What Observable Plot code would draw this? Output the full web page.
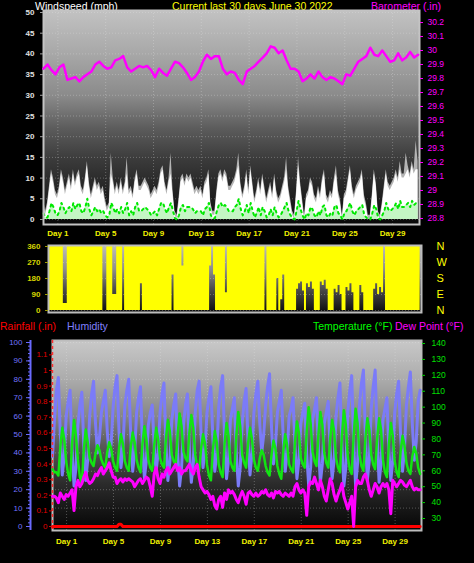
<!DOCTYPE html>
<html><head><meta charset="utf-8">
<script src="https://cdn.jsdelivr.net/npm/d3@7"></script>
<script src="https://cdn.jsdelivr.net/npm/@observablehq/plot@0.6"></script>
<style>
html,body{margin:0;padding:0;background:#000;}
#page{position:relative;width:474px;height:563px;overflow:hidden;background:#000;font-family:"Liberation Sans",Arial,Helvetica,sans-serif;}
.lbl{position:absolute;font-size:10.5px;line-height:12px;white-space:nowrap;}
</style></head>
<body><div id="page">
<div class="lbl" style="left:35px;top:0px;color:#ffffff">Windspeed (mph)</div>
<div class="lbl" style="left:172px;top:0px;color:#ffff00">Current last 30 days June 30 2022</div>
<div class="lbl" style="left:371px;top:0px;color:#ff00ff">Barometer (.in)</div>
<div class="lbl" style="left:0px;top:320px;color:#ff0000">Rainfall (.in)</div>
<div class="lbl" style="left:67px;top:320px;color:#8080ff">Humidity</div>
<div class="lbl" style="left:313px;top:320px;color:#00ff00">Temperature (°F)</div>
<div class="lbl" style="left:395px;top:320px;color:#ff00ff">Dew Point (°F)</div>
</div>
<script>
// ---------- tick labels ----------
const dayTicks = [1, 5, 9, 13, 17, 21, 25, 29];
const windTicks = [0, 5, 10, 15, 20, 25, 30, 35, 40, 45, 50];
const baroTicks = [28.8, 28.9, 29, 29.1, 29.2, 29.3, 29.4, 29.5, 29.6, 29.7, 29.8, 29.9, 30, 30.1, 30.2];
const dirTicks = [0, 90, 180, 270, 360];
const dirNames = ["N", "E", "S", "W", "N"];
const humTicks = [0, 10, 20, 30, 40, 50, 60, 70, 80, 90, 100];
const rainTicks = [0, 0.1, 0.2, 0.3, 0.4, 0.5, 0.6, 0.7, 0.8, 0.9, 1, 1.1];
const tempTicks = [30, 40, 50, 60, 70, 80, 90, 100, 110, 120, 130, 140];

// ---------- series: one value every 4 hours (2 evening samples, then days 0..30 x6, then 1) ----------
const temperature = [
 61, 59,
 59, 57, 75, 87, 80, 66,
 58, 54, 77, 92, 82, 67,
 56, 52, 73, 86, 78, 68,
 65, 63, 71, 76, 73, 67,
 64, 62, 72, 78, 74, 66,
 62, 60, 74, 83, 77, 66,
 62, 60, 75, 84, 78, 67,
 62, 59, 77, 88, 80, 67,
 62, 60, 76, 87, 80, 68,
 64, 62, 80, 92, 85, 70,
 66, 64, 83, 96, 88, 72,
 68, 66, 84, 95, 87, 70,
 63, 60, 74, 83, 77, 64,
 57, 54, 73, 85, 78, 64,
 59, 56, 77, 90, 82, 66,
 62, 60, 82, 97, 88, 70,
 65, 62, 77, 87, 80, 67,
 62, 60, 68, 73, 70, 63,
 59, 57, 70, 79, 74, 63,
 58, 55, 72, 83, 76, 64,
 61, 59, 78, 91, 84, 68,
 64, 62, 85, 100, 90, 72,
 66, 63, 83, 97, 89, 71,
 65, 62, 80, 92, 85, 68,
 62, 59, 82, 98, 89, 69,
 61, 58, 82, 99, 90, 70,
 63, 60, 80, 93, 86, 70,
 64, 61, 80, 93, 86, 67,
 59, 56, 76, 90, 82, 66,
 59, 56, 72, 82, 76, 65,
 60, 58, 69, 75, 71, 62,
 58
];
const humidity = [
 38, 58,
 74, 81, 50, 28, 38, 60,
 68, 74, 42, 22, 32, 55,
 66, 73, 44, 25, 36, 60,
 72, 79, 56, 40, 48, 62,
 68, 74, 52, 38, 45, 65,
 76, 82, 52, 32, 42, 66,
 74, 80, 50, 30, 40, 62,
 70, 76, 45, 26, 36, 55,
 62, 66, 44, 30, 40, 62,
 72, 78, 45, 25, 35, 58,
 66, 72, 40, 22, 32, 56,
 66, 72, 42, 24, 34, 62,
 74, 79, 50, 32, 42, 62,
 70, 76, 48, 30, 40, 65,
 76, 82, 48, 26, 36, 58,
 64, 70, 40, 22, 32, 56,
 68, 75, 46, 28, 40, 62,
 72, 79, 56, 40, 50, 66,
 76, 83, 54, 34, 44, 62,
 68, 74, 48, 30, 40, 60,
 64, 70, 44, 26, 36, 56,
 62, 67, 40, 22, 32, 58,
 64, 70, 42, 24, 34, 56,
 62, 68, 42, 26, 36, 60,
 70, 78, 44, 22, 32, 62,
 74, 82, 46, 22, 34, 66,
 78, 85, 50, 25, 36, 64,
 76, 85, 50, 24, 34, 58,
 64, 70, 42, 25, 36, 62,
 72, 79, 50, 30, 42, 66,
 76, 84, 56, 36, 46, 68,
 74
];
const dewPoint = [
 44, 44,
 43, 40, 46, 44, 42, 45,
 44, 46, 48, 35, 50, 54,
 50, 52, 56, 59, 54, 52,
 53, 55, 58, 57, 60, 62,
 58, 60, 62, 65, 60, 56,
 56, 52, 54, 55, 53, 55,
 54, 55, 54, 53, 50, 52,
 54, 55, 52, 54, 56, 55,
 50, 44, 58, 62, 55, 52,
 58, 56, 60, 62, 58, 60,
 62, 64, 60, 62, 58, 60,
 60, 62, 64, 60, 58, 62,
 64, 56, 50, 48, 46, 47,
 45, 42, 44, 38, 36, 42,
 44, 37, 46, 42, 48, 46,
 47, 45, 42, 40, 44, 47,
 44, 39, 46, 47, 45, 44,
 46, 44, 45, 47, 46, 48,
 45, 44, 46, 43, 47, 46,
 47, 45, 44, 46, 45, 44,
 46, 44, 50, 52, 48, 46,
 48, 46, 32, 50, 53, 52,
 56, 52, 48, 54, 50, 44,
 41, 48, 55, 52, 45, 41,
 45, 48, 52, 44, 40, 36,
 40, 44, 25, 50, 54, 52,
 52, 56, 58, 54, 48, 44,
 48, 52, 50, 46, 50, 52,
 50, 52, 48, 33, 54, 52,
 50, 52, 54, 53, 51, 50,
 52, 54, 50, 48, 49, 48,
 48
];
const rainfall = [
 0, 0,
 0, 0, 0, 0, 0, 0,
 0, 0, 0, 0, 0, 0,
 0, 0, 0, 0, 0, 0,
 0, 0, 0, 0, 0, 0,
 0, 0, 0, 0, 0, 0,
 0, 0, 0.015, 0.015, 0, 0,
 0, 0, 0, 0, 0, 0,
 0, 0, 0, 0, 0, 0,
 0, 0, 0, 0, 0, 0,
 0, 0, 0, 0, 0, 0,
 0, 0, 0, 0, 0, 0,
 0, 0, 0, 0, 0, 0,
 0, 0, 0, 0, 0, 0,
 0, 0, 0, 0, 0, 0,
 0, 0, 0, 0, 0, 0,
 0, 0, 0, 0, 0, 0,
 0, 0, 0, 0, 0, 0,
 0, 0, 0, 0, 0, 0,
 0, 0, 0, 0, 0, 0,
 0, 0, 0, 0, 0, 0,
 0, 0, 0, 0, 0, 0,
 0, 0, 0, 0, 0, 0,
 0, 0, 0, 0, 0, 0,
 0, 0, 0, 0, 0, 0,
 0, 0, 0, 0, 0, 0,
 0, 0, 0, 0, 0, 0,
 0, 0, 0, 0, 0, 0,
 0, 0, 0, 0, 0, 0,
 0, 0, 0, 0, 0, 0,
 0, 0, 0, 0, 0, 0,
 0, 0, 0, 0, 0, 0,
 0
];
const windSpeed = [
 4, 1,
 3, 7, 11, 9, 6, 5,
 7, 11, 9, 6, 8, 10,
 7, 11, 8, 10, 11, 7,
 6, 9, 13, 8, 5, 7,
 9, 7, 8, 6, 7, 4,
 2, 3, 11, 9, 6, 8,
 6, 9, 6, 8, 11, 6,
 7, 5, 9, 11, 7, 7,
 8, 9, 8, 7, 5, 6,
 7, 6, 8, 11, 12, 8,
 6, 9, 11, 6, 1, 0,
 4, 9, 10, 8, 10, 9,
 10, 8, 6, 7, 6, 7,
 5, 8, 9, 11, 3, 1,
 1, 6, 10, 11, 9, 11,
 10, 7, 7, 8, 9, 11,
 13, 8, 5, 7, 11, 6,
 12, 8, 4, 6, 9, 6,
 10, 7, 4, 6, 8, 5,
 10, 6, 4, 5, 7, 9,
 12, 7, 4, 1, 0, 6,
 13, 8, 4, 0, 5, 6,
 9, 8, 5, 4, 7, 5,
 9, 11, 5, 4, 6, 5,
 9, 11, 6, 4, 0, 5,
 6, 9, 12, 7, 5, 7,
 8, 9, 11, 5, 3, 0,
 0, 5, 11, 8, 1, 0,
 3, 7, 11, 8, 7, 8,
 9, 11, 9, 12, 10, 10,
 11, 12, 10, 13, 11, 12,
 12
];
const windGust = [
 5, 2,
 4, 8, 12, 10, 7, 6,
 8, 12, 10, 7, 9, 11,
 8, 12, 9, 11, 12, 8,
 7, 10, 14, 9, 6, 8,
 10, 8, 9, 7, 8, 5,
 3, 4, 16, 10, 7, 9,
 7, 10, 7, 9, 15, 7,
 8, 6, 10, 12, 8, 8,
 9, 10, 9, 8, 6, 7,
 8, 7, 9, 12, 13, 9,
 7, 10, 16, 7, 2, 1,
 5, 10, 11, 9, 11, 10,
 11, 9, 7, 8, 7, 8,
 6, 9, 10, 12, 4, 2,
 2, 7, 11, 12, 10, 12,
 11, 8, 8, 9, 10, 12,
 16, 9, 6, 8, 12, 7,
 13, 9, 5, 7, 10, 7,
 11, 8, 5, 7, 9, 6,
 11, 7, 5, 6, 8, 10,
 15, 8, 5, 2, 1, 7,
 15, 9, 5, 1, 6, 7,
 10, 9, 6, 5, 8, 6,
 10, 12, 6, 5, 7, 6,
 10, 13, 7, 5, 1, 6,
 7, 10, 13, 8, 6, 8,
 9, 10, 12, 6, 4, 1,
 1, 6, 12, 9, 2, 1,
 4, 8, 12, 9, 8, 9,
 10, 12, 10, 14, 11, 11,
 16, 13, 11, 14, 12, 19,
 14
];
const windAvg = [
 1.5, 0.5,
 0.5, 2, 4, 3, 1.5, 1,
 2, 4, 3, 1.5, 2.5, 3,
 2, 4, 2.5, 3.5, 4, 2,
 1.5, 3, 5, 2.5, 1, 2,
 3, 2, 2.5, 1.5, 2, 1,
 0.5, 1, 4, 3, 1.5, 2.5,
 1.5, 3, 1.5, 2.5, 4, 1,
 2, 1, 3, 4, 2, 2,
 2.5, 3, 2.5, 2, 1, 1.5,
 2, 1, 2.5, 4, 4, 2.5,
 1.5, 3, 4, 2, 0.3, 0,
 1, 3, 3.5, 2, 3, 3,
 3, 2.5, 1.5, 2, 2, 2,
 1, 2.5, 3, 4, 1, 0.3,
 0.3, 2, 3.5, 4, 3, 3.5,
 3, 2, 2, 2, 3, 3.5,
 5, 2.5, 1, 2, 3.5, 1.5,
 4, 2, 0.5, 1.5, 3, 1,
 3, 2, 0.5, 1, 2.5, 1,
 3, 1.5, 0.5, 1, 2, 3,
 4, 2, 1, 0.3, 0, 2,
 4.5, 2.5, 1, 0, 1.5, 1,
 3, 2.5, 1, 0.5, 2, 1,
 3, 3.5, 1, 0.5, 1.5, 1,
 3, 3.5, 1.5, 1, 0, 1.5,
 2, 3, 4, 2, 1, 2,
 2.5, 3, 3.5, 1, 0.5, 0,
 0, 1.5, 3.5, 2.5, 0.3, 0,
 1, 2, 4, 2.5, 2, 2.5,
 3, 4, 2.5, 4.5, 3, 3,
 3.5, 4, 3, 4.5, 3.5, 4,
 4
];
// wind direction spread within each 4-hour slot (degrees)
const dirLow = [
 0, 0,
 0, 0, 0, 0, 0, 0,
 0, 0, 0, 0, 0, 0,
 0, 0, 0, 0, 0, 0,
 0, 0, 0, 0, 0, 0,
 0, 0, 0, 0, 0, 0,
 0, 0, 0, 0, 0, 0,
 0, 0, 0, 0, 0, 0,
 0, 0, 0, 150, 0, 0,
 0, 0, 0, 0, 0, 0,
 0, 0, 0, 0, 0, 0,
 0, 200, 0, 0, 0, 0,
 0, 0, 0, 0, 0, 0,
 0, 0, 0, 0, 0, 0,
 0, 0, 250, 0, 200, 0,
 0, 0, 0, 0, 0, 0,
 0, 0, 0, 0, 0, 0,
 0, 0, 0, 0, 0, 0,
 0, 0, 0, 0, 0, 0,
 0, 0, 0, 0, 0, 0,
 180, 0, 60, 200, 0, 0,
 0, 0, 0, 0, 120, 150,
 160, 110, 0, 150, 130, 160,
 120, 0, 0, 0, 160, 140,
 170, 120, 0, 0, 0, 120,
 100, 140, 90, 0, 0, 130,
 110, 150, 100, 0, 0, 0,
 140, 100, 0, 0, 0, 0,
 0, 120, 150, 90, 130, 100,
 0, 0, 0, 0, 0, 0,
 0, 0, 0, 0, 0, 0,
 0, 0, 0, 0, 0, 0,
 0
];
const dirHigh = [
 360, 360,
 360, 360, 360, 360, 360, 360,
 40, 40, 360, 360, 360, 360,
 360, 360, 360, 360, 360, 360,
 360, 360, 360, 360, 360, 360,
 360, 360, 0, 0, 360, 360,
 360, 90, 90, 360, 360, 360,
 0, 360, 360, 360, 360, 360,
 360, 360, 360, 360, 360, 360,
 360, 360, 360, 360, 360, 360,
 360, 360, 360, 360, 360, 360,
 360, 360, 360, 360, 360, 360,
 250, 360, 360, 360, 360, 360,
 360, 360, 360, 360, 360, 360,
 360, 360, 360, 0, 360, 360,
 360, 360, 360, 360, 100, 360,
 360, 360, 360, 360, 360, 360,
 360, 360, 360, 360, 360, 360,
 360, 360, 360, 360, 360, 360,
 0, 360, 360, 360, 360, 360,
 360, 360, 360, 360, 360, 360,
 360, 360, 360, 360, 360, 360,
 360, 360, 360, 360, 360, 360,
 360, 360, 360, 360, 360, 360,
 360, 360, 360, 360, 360, 360,
 360, 360, 360, 360, 360, 360,
 360, 360, 360, 360, 360, 360,
 360, 360, 360, 360, 360, 360,
 360, 360, 360, 360, 360, 360,
 0, 360, 360, 360, 360, 360,
 360, 360, 360, 360, 360, 360,
 360, 360, 360, 360, 360, 360,
 360
];
// barometer, one value every 8 hours
const barometer = [
 29.87, 29.90, 29.86, 29.83, 29.88, 29.90, 29.79, 29.80, 29.81, 29.78,
 29.81, 29.83, 29.85, 29.90, 29.92, 29.89, 29.87, 29.88, 29.93, 29.94,
 29.96, 29.88, 29.85, 29.87, 29.89, 29.88, 29.89, 29.86, 29.81, 29.87,
 29.84, 29.82, 29.87, 29.92, 29.91, 29.88, 29.84, 29.79, 29.81, 29.85,
 29.92, 29.97, 29.94, 29.96, 29.96, 29.87, 29.83, 29.85, 29.84, 29.79,
 29.76, 29.85, 29.87, 29.89, 29.92, 29.95, 29.98, 30.03, 30.02, 29.98,
 30.00, 29.93, 29.87, 29.87, 29.85, 29.78, 29.80, 29.83, 29.80, 29.85,
 29.81, 29.79, 29.81, 29.80, 29.78, 29.76, 29.83, 29.82, 29.87, 29.92,
 29.94, 29.96, 30.02, 29.97, 29.96, 30.00, 29.96, 29.92, 29.93, 29.98,
 29.93, 29.95, 29.99, 29.95, 29.97
];

// ---------- tables ----------
const T0 = -0.2, X_DOMAIN = [-0.2, 31.25];
const rows = temperature.map((v, i) => ({
  t: T0 + i / 6, temp: v, hum: humidity[i], dew: dewPoint[i], rain: rainfall[i],
  wind: windSpeed[i], gust: windGust[i], avg: windAvg[i], lo: dirLow[i], hi: dirHigh[i]
}));
const baroRows = barometer.map((v, i) => ({t: T0 + i / 3, p: v}));

const FONT = '"Liberation Sans", Arial, Helvetica, sans-serif';
const page = document.getElementById("page");
const common = {width: 474, height: 563, style: {background: "transparent", fontFamily: FONT, overflow: "visible"}};
function mount(svg) { svg.style.position = "absolute"; svg.style.left = "0px"; svg.style.top = "0px"; page.appendChild(svg); return svg; }
function addGradient(svg, id, stops) {
  const ns = "http://www.w3.org/2000/svg";
  const defs = document.createElementNS(ns, "defs");
  const g = document.createElementNS(ns, "linearGradient");
  g.setAttribute("id", id); g.setAttribute("x1", "0"); g.setAttribute("y1", "0"); g.setAttribute("x2", "0"); g.setAttribute("y2", "1");
  for (const [o, c] of stops) { const s = document.createElementNS(ns, "stop"); s.setAttribute("offset", o); s.setAttribute("stop-color", c); g.appendChild(s); }
  defs.appendChild(g); svg.insertBefore(defs, svg.firstChild);
}
const gridStyle = {stroke: "#e8e8e8", strokeOpacity: 0.3, strokeDasharray: "1,2"};
const dayFmt = d => `Day ${d}`;

// ---------- panel 1: wind ----------
const m1 = {marginLeft: 43, marginRight: 55, marginTop: 10, marginBottom: 339};
const A1 = Plot.plot({...common, ...m1,
  x: {domain: X_DOMAIN, axis: null}, y: {domain: [-1.21, 50.48], axis: null},
  marks: [
    Plot.frame({fill: "url(#gA)", stroke: "none"}),
    Plot.gridY(windTicks, gridStyle),
    Plot.gridX(dayTicks, gridStyle),
    Plot.areaY(rows, {x: "t", y: "gust", fill: "#b4b4b4"}),
    Plot.areaY(rows, {x: "t", y: "wind", fill: "#ffffff"}),
    Plot.areaY(rows, {x: "t", y: "avg", fill: "#c4f6c4"}),
    Plot.lineY(rows, {x: "t", y: "avg", stroke: "#00e800", strokeWidth: 2, strokeDasharray: "2,4"}),
    Plot.frame({stroke: "#c4c4c4", strokeWidth: 2}),
    Plot.axisY(windTicks, {anchor: "left", tickSize: 3, tickPadding: 6, fill: "#e0e0e0", stroke: "#a0a0a0", fontSize: 8, fontWeight: "bold", label: null}),
    Plot.axisX(dayTicks, {anchor: "bottom", tickSize: 0, tickPadding: 6, tickFormat: dayFmt, fill: "#f0f000", fontSize: 8, fontWeight: "bold", label: null})
  ]});
addGradient(A1, "gA", [[0, "#c2c2c2"], [0.2, "#a8a8a8"], [0.4, "#8a8a8a"], [0.55, "#5c5c5c"], [0.7, "#3a3a3a"], [0.85, "#222222"], [1, "#080808"]]);
mount(A1);

const A2 = Plot.plot({...common, ...m1,
  x: {domain: X_DOMAIN, axis: null}, y: {domain: [28.757, 30.286], axis: null},
  marks: [
    Plot.lineY(baroRows, {x: "t", y: "p", stroke: "#ff00ff", strokeWidth: 2.5}),
    Plot.axisY(baroTicks, {anchor: "right", tickSize: 3, tickPadding: 5, fill: "#ff00ff", stroke: "#ff00ff", fontSize: 8.5, tickFormat: d => String(d), label: null})
  ]});
mount(A2);

// ---------- panel 2: wind direction ----------
const B = Plot.plot({...common, marginLeft: 48, marginRight: 53, marginTop: 245, marginBottom: 251,
  x: {domain: X_DOMAIN, axis: null}, y: {domain: [-11.25, 365.6], axis: null},
  marks: [
    Plot.frame({fill: "url(#gB)", stroke: "none"}),
    Plot.gridY(dirTicks, gridStyle),
    Plot.areaY(rows, {x: "t", y1: "lo", y2: "hi", fill: "#ffff00", curve: "step"}),
    Plot.frame({stroke: "#bdbdbd", strokeWidth: 2}),
    Plot.axisY(dirTicks, {anchor: "left", tickSize: 3, tickPadding: 5, fill: "#d6d600", stroke: "#a0a000", fontSize: 8, fontWeight: "bold", label: null}),
    Plot.axisY(dirTicks, {anchor: "right", tickSize: 0, tickPadding: 15, fill: "#ffff00", fontSize: 11, tickFormat: d => dirNames[dirTicks.indexOf(d)], label: null})
  ]});
addGradient(B, "gB", [[0, "#bcbcbc"], [0.35, "#8e8e8e"], [0.65, "#4c4c4c"], [1, "#0c0c0c"]]);
mount(B);

// ---------- panel 3: background, temperature axis ----------
const m3 = {marginLeft: 52, marginRight: 53, marginTop: 340, marginBottom: 33};
const TEMP_DOMAIN = [22.46, 141.9];
const C0 = Plot.plot({...common, ...m3,
  x: {domain: X_DOMAIN, axis: null}, y: {domain: TEMP_DOMAIN, axis: null},
  marks: [
    Plot.frame({fill: "url(#gC)", stroke: "none"}),
    Plot.gridX(dayTicks, gridStyle),
    Plot.frame({stroke: "#bdbdbd", strokeWidth: 2}),
    Plot.axisY(tempTicks, {anchor: "right", tickSize: 3, tickPadding: 7, fill: "#00e000", stroke: "#00d000", fontSize: 8.5, label: null}),
    Plot.axisX(dayTicks, {anchor: "bottom", tickSize: 0, tickPadding: 8, tickFormat: dayFmt, fill: "#f0f000", fontSize: 8, fontWeight: "bold", label: null})
  ]});
addGradient(C0, "gC", [[0, "#c8c8c8"], [0.2, "#acacac"], [0.4, "#868686"], [0.55, "#5a5a5a"], [0.75, "#2c2c2c"], [1, "#050505"]]);
mount(C0);

// humidity (own scale, axis at far left)
const pxDay3 = (474 - 53 - 52) / (X_DOMAIN[1] - X_DOMAIN[0]);
const humXStart = X_DOMAIN[0] - (52 - 30) / pxDay3;
const C1 = Plot.plot({...common, marginLeft: 30, marginRight: 53, marginTop: 340, marginBottom: 33,
  x: {domain: [humXStart, X_DOMAIN[1]], axis: null}, y: {domain: [-2.17, 101.09], axis: null},
  marks: [
    Plot.ruleY(humTicks.slice(1), {y: d => d, x1: X_DOMAIN[0], x2: X_DOMAIN[1], ...gridStyle}),
    Plot.lineY(rows, {x: "t", y: "hum", stroke: "#7b7bf8", strokeWidth: 3}),
    Plot.ruleX([humXStart], {stroke: "#6a6aff", strokeWidth: 2}),
    Plot.axisY(d3.range(0, 101, 2), {anchor: "left", tickSize: 2, tickFormat: () => "", stroke: "#6a6aff", label: null}),
    Plot.axisY(humTicks, {anchor: "left", tickSize: 4, tickPadding: 4, fill: "#7474ff", stroke: "#6a6aff", fontSize: 8, label: null})
  ]});
mount(C1);

// rainfall (own scale, dashed axis at panel edge)
const C2 = Plot.plot({...common, ...m3,
  x: {domain: X_DOMAIN, axis: null}, y: {domain: [-0.0256, 1.192], axis: null},
  marks: [
    Plot.ruleX([X_DOMAIN[0]], {stroke: "#ff3030", strokeWidth: 1.5, strokeDasharray: "3,3"}),
    Plot.lineY(rows, {x: "t", y: "rain", stroke: "#ff0000", strokeWidth: 3}),
    Plot.axisY(rainTicks, {anchor: "left", tickSize: 3, tickPadding: 2, fill: "#e00000", stroke: "#e00000", fontSize: 8, tickFormat: d => String(d), label: null})
  ]});
mount(C2);

// temperature and dew point
const C3 = Plot.plot({...common, ...m3,
  x: {domain: X_DOMAIN, axis: null}, y: {domain: TEMP_DOMAIN, axis: null},
  marks: [
    Plot.lineY(rows, {x: "t", y: "temp", stroke: "#12e412", strokeWidth: 2.5}),
    Plot.lineY(rows, {x: "t", y: "dew", stroke: "#ff00ff", strokeWidth: 3})
  ]});
mount(C3);
</script>
</body></html>
